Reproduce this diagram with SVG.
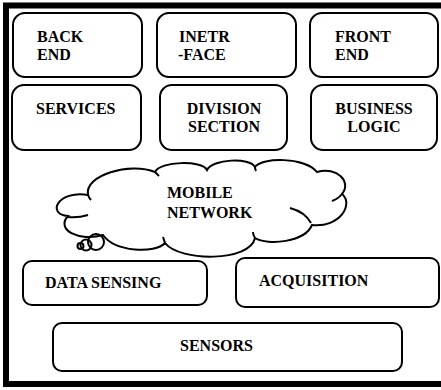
<svg xmlns="http://www.w3.org/2000/svg" width="441" height="390" viewBox="0 0 441 390">
<style>
.box{fill:#fff;stroke:#000;stroke-width:2}
.t{font-family:"Liberation Serif","Times New Roman",serif;font-weight:bold;font-size:16px;fill:#000}
.c{text-anchor:middle}
.ln{fill:none;stroke:#000;stroke-width:2}
</style>
<rect width="441" height="390" fill="#fff"/>
<rect x="6" y="5.5" width="440" height="378.5" fill="none" stroke="#000" stroke-width="6"/>
<g id="back-end"><rect class="box" x="13" y="13" width="129" height="64" rx="12"/><text class="t" x="37" y="42">BACK</text><text class="t" x="37" y="60">END</text></g>
<g id="interface"><rect class="box" x="157" y="13" width="139" height="64" rx="12"/><text class="t" x="179" y="42">INETR</text><text class="t" x="178" y="60">-FACE</text></g>
<g id="front-end"><rect class="box" x="310" y="13" width="128" height="64" rx="12"/><text class="t" x="335" y="42">FRONT</text><text class="t" x="335" y="60">END</text></g>
<g id="services"><rect class="box" x="12" y="85" width="129" height="65" rx="12"/><text class="t" x="36" y="114">SERVICES</text></g>
<g id="division-section"><rect class="box" x="160" y="85" width="127" height="65" rx="12"/><text class="t c" x="224" y="114">DIVISION</text><text class="t c" x="224" y="132">SECTION</text></g>
<g id="business-logic"><rect class="box" x="311" y="85" width="126" height="65" rx="12"/><text class="t c" x="374" y="114">BUSINESS</text><text class="t c" x="374" y="132">LOGIC</text></g>
<g id="mobile-network">
<path class="ln" fill="#fff" d="M68,216 C46,214 58,190 88,195 C84,175 130,162 155,172 C160,161 202,160 207,170 C212,159 250,157 255,167 C262,157 305,157 317,172 C337,166 352,182 342,194 C354,204 340,228 312,225 C305,242 268,246 255,238 C250,262 180,262 165,243 C155,254 115,252 103,235 C80,242 55,230 68,216 Z" style="fill:#fff"/>
<path class="ln" d="M68,217 Q78,218 88,215 M88,195 Q89,198 91,200 M155,172 Q157,174 159,176 M255,167 Q255,169 256,171 M342,194 Q338,199 332,201 M290,208 Q305,212 311,223 M255,238 Q253,235 253,232 M165,243 Q164,240 163,237"/>
<circle class="ln" cx="96" cy="242" r="8"/>
<circle class="ln" cx="86" cy="245" r="5.5"/>
<circle class="ln" cx="80.5" cy="246" r="3"/>
<text class="t" x="167" y="198">MOBILE</text><text class="t" x="167" y="218">NETWORK</text>
</g>
<g id="data-sensing"><rect class="box" x="23" y="261" width="184" height="44" rx="9"/><text class="t" x="45" y="288">DATA SENSING</text></g>
<g id="acquisition"><rect class="box" x="236" y="258" width="203" height="49" rx="9"/><text class="t" x="259" y="286">ACQUISITION</text></g>
<g id="sensors"><rect class="box" x="53" y="323" width="349" height="48" rx="9"/><text class="t" x="180" y="351">SENSORS</text></g>
<g id="connectors"></g>
</svg>
